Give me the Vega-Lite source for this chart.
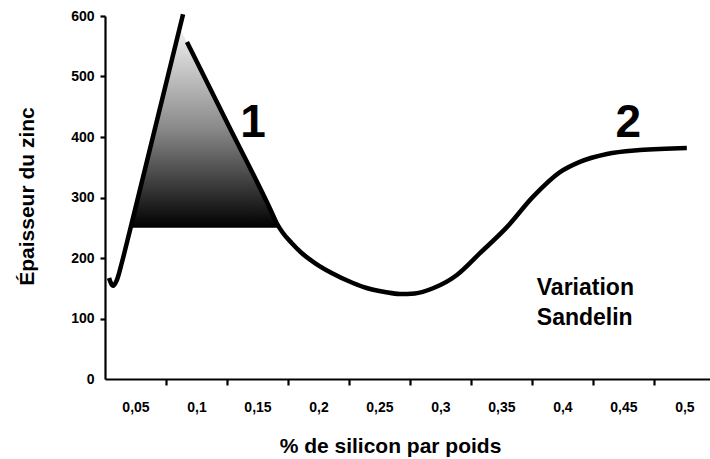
{
  "$schema": "https://vega.github.io/schema/vega-lite/v6.json",
  "width": 605,
  "height": 363,
  "autosize": {"type": "none"},
  "padding": {"left": 105, "top": 16, "right": 0, "bottom": 80},
  "background": "white",
  "config": {
    "view": {"stroke": null},
    "font": "Liberation Sans",
    "axis": {
      "labelFont": "Liberation Sans",
      "titleFont": "Liberation Sans",
      "labelFontWeight": "bold",
      "titleFontWeight": "bold",
      "labelColor": "black",
      "titleColor": "black",
      "domainColor": "black",
      "tickColor": "black",
      "domainWidth": 2.2,
      "tickWidth": 2.2,
      "grid": false
    }
  },
  "datasets": {
    "curve": [
      {"seg": "a", "x": 0.0283, "y": 167},
      {"seg": "a", "x": 0.0316, "y": 154},
      {"seg": "a", "x": 0.0348, "y": 164},
      {"seg": "a", "x": 0.0389, "y": 193},
      {"seg": "a", "x": 0.0455, "y": 246},
      {"seg": "a", "x": 0.089, "y": 603},
      {"seg": "b", "x": 0.0922, "y": 557},
      {"seg": "b", "x": 0.1265, "y": 418},
      {"seg": "b", "x": 0.1608, "y": 279.3},
      {"seg": "b", "x": 0.1657, "y": 257.9},
      {"seg": "b", "x": 0.1709, "y": 241.3},
      {"seg": "b", "x": 0.178, "y": 224.8},
      {"seg": "b", "x": 0.1862, "y": 208.3},
      {"seg": "b", "x": 0.1971, "y": 191.7},
      {"seg": "b", "x": 0.2108, "y": 175.2},
      {"seg": "b", "x": 0.2283, "y": 158.7},
      {"seg": "b", "x": 0.2395, "y": 150.4},
      {"seg": "b", "x": 0.2545, "y": 143.8},
      {"seg": "b", "x": 0.2668, "y": 140.5},
      {"seg": "b", "x": 0.279, "y": 141.5},
      {"seg": "b", "x": 0.2939, "y": 150},
      {"seg": "b", "x": 0.3135, "y": 172},
      {"seg": "b", "x": 0.3324, "y": 208},
      {"seg": "b", "x": 0.3545, "y": 251},
      {"seg": "b", "x": 0.3758, "y": 301},
      {"seg": "b", "x": 0.398, "y": 342},
      {"seg": "b", "x": 0.4143, "y": 359},
      {"seg": "b", "x": 0.4365, "y": 372},
      {"seg": "b", "x": 0.4635, "y": 378.5},
      {"seg": "b", "x": 0.502, "y": 382}
    ],
    "fill": [
      {"x": 0.046, "y": 250},
      {"x": 0.0863, "y": 580},
      {"x": 0.168, "y": 250}
    ],
    "big": [
      {"t": "1", "x": 0.1463, "y": 400},
      {"t": "2", "x": 0.4541, "y": 400}
    ],
    "note": [
      {"t": "Variation", "x": 0.379, "y": 139},
      {"t": "Sandelin", "x": 0.379, "y": 89}
    ]
  },
  "encoding": {
    "x": {
      "field": "x",
      "type": "quantitative",
      "scale": {"domain": [0.025, 0.521], "nice": false, "zero": false},
      "axis": {
        "values": [0.05, 0.075, 0.1, 0.125, 0.15, 0.175, 0.2, 0.225, 0.25, 0.275, 0.3, 0.325, 0.35, 0.375, 0.4, 0.425, 0.45, 0.475, 0.5],
        "labelExpr": "round(datum.value*40) % 2 == 0 ? replace(format(datum.value, '.2~f'), '.', ',') : ''",
        "tickOpacity": {"condition": {"test": "round(datum.value*40) % 2 == 1", "value": 1}, "value": 0},
        "tickSize": 6,
        "labelPadding": 15,
        "labelFontSize": 14,
        "labelOverlap": false,
        "labelFlush": false,
        "title": "% de silicon par poids",
        "titleFontSize": 21,
        "titleX": 285,
        "titleY": 73,
        "titleAlign": "center",
        "titleBaseline": "alphabetic"
      }
    },
    "y": {
      "field": "y",
      "type": "quantitative",
      "scale": {"domain": [0, 600], "nice": false},
      "axis": {
        "values": [0, 100, 200, 300, 400, 500, 600],
        "tickOpacity": {"condition": {"test": "datum.value == 0", "value": 0}, "value": 1},
        "tickSize": 5,
        "labelPadding": 6,
        "labelFontSize": 14,
        "labelOverlap": false,
        "labelFlush": false,
        "title": "Épaisseur du zinc",
        "titleFontSize": 21,
        "titleAngle": 270,
        "titleX": -78,
        "titleY": 180,
        "titleAlign": "center",
        "titleBaseline": "middle"
      }
    }
  },
  "layer": [
    {
      "data": {"name": "fill"},
      "mark": {
        "type": "area",
        "opacity": 1,
        "fill": {
          "gradient": "linear",
          "x1": 0, "y1": 0, "x2": 0, "y2": 1,
          "stops": [
            {"offset": 0, "color": "#f2f2f2"},
            {"offset": 0.5, "color": "#8a8a8a"},
            {"offset": 1, "color": "#000000"}
          ]
        }
      },
      "encoding": {"y2": {"datum": 250}}
    },
    {
      "data": {"name": "curve"},
      "mark": {"type": "line", "color": "black", "strokeWidth": 4.5, "interpolate": "monotone", "strokeCap": "butt"},
      "encoding": {"detail": {"field": "seg", "type": "nominal"}}
    },
    {
      "data": {"name": "big"},
      "mark": {"type": "text", "font": "Liberation Sans", "fontSize": 46, "fontWeight": "bold", "color": "black", "align": "center", "baseline": "alphabetic"},
      "encoding": {"text": {"field": "t", "type": "nominal"}}
    },
    {
      "data": {"name": "note"},
      "mark": {"type": "text", "font": "Liberation Sans", "fontSize": 23, "fontWeight": "bold", "color": "black", "align": "left", "baseline": "alphabetic"},
      "encoding": {"text": {"field": "t", "type": "nominal"}}
    }
  ]
}
